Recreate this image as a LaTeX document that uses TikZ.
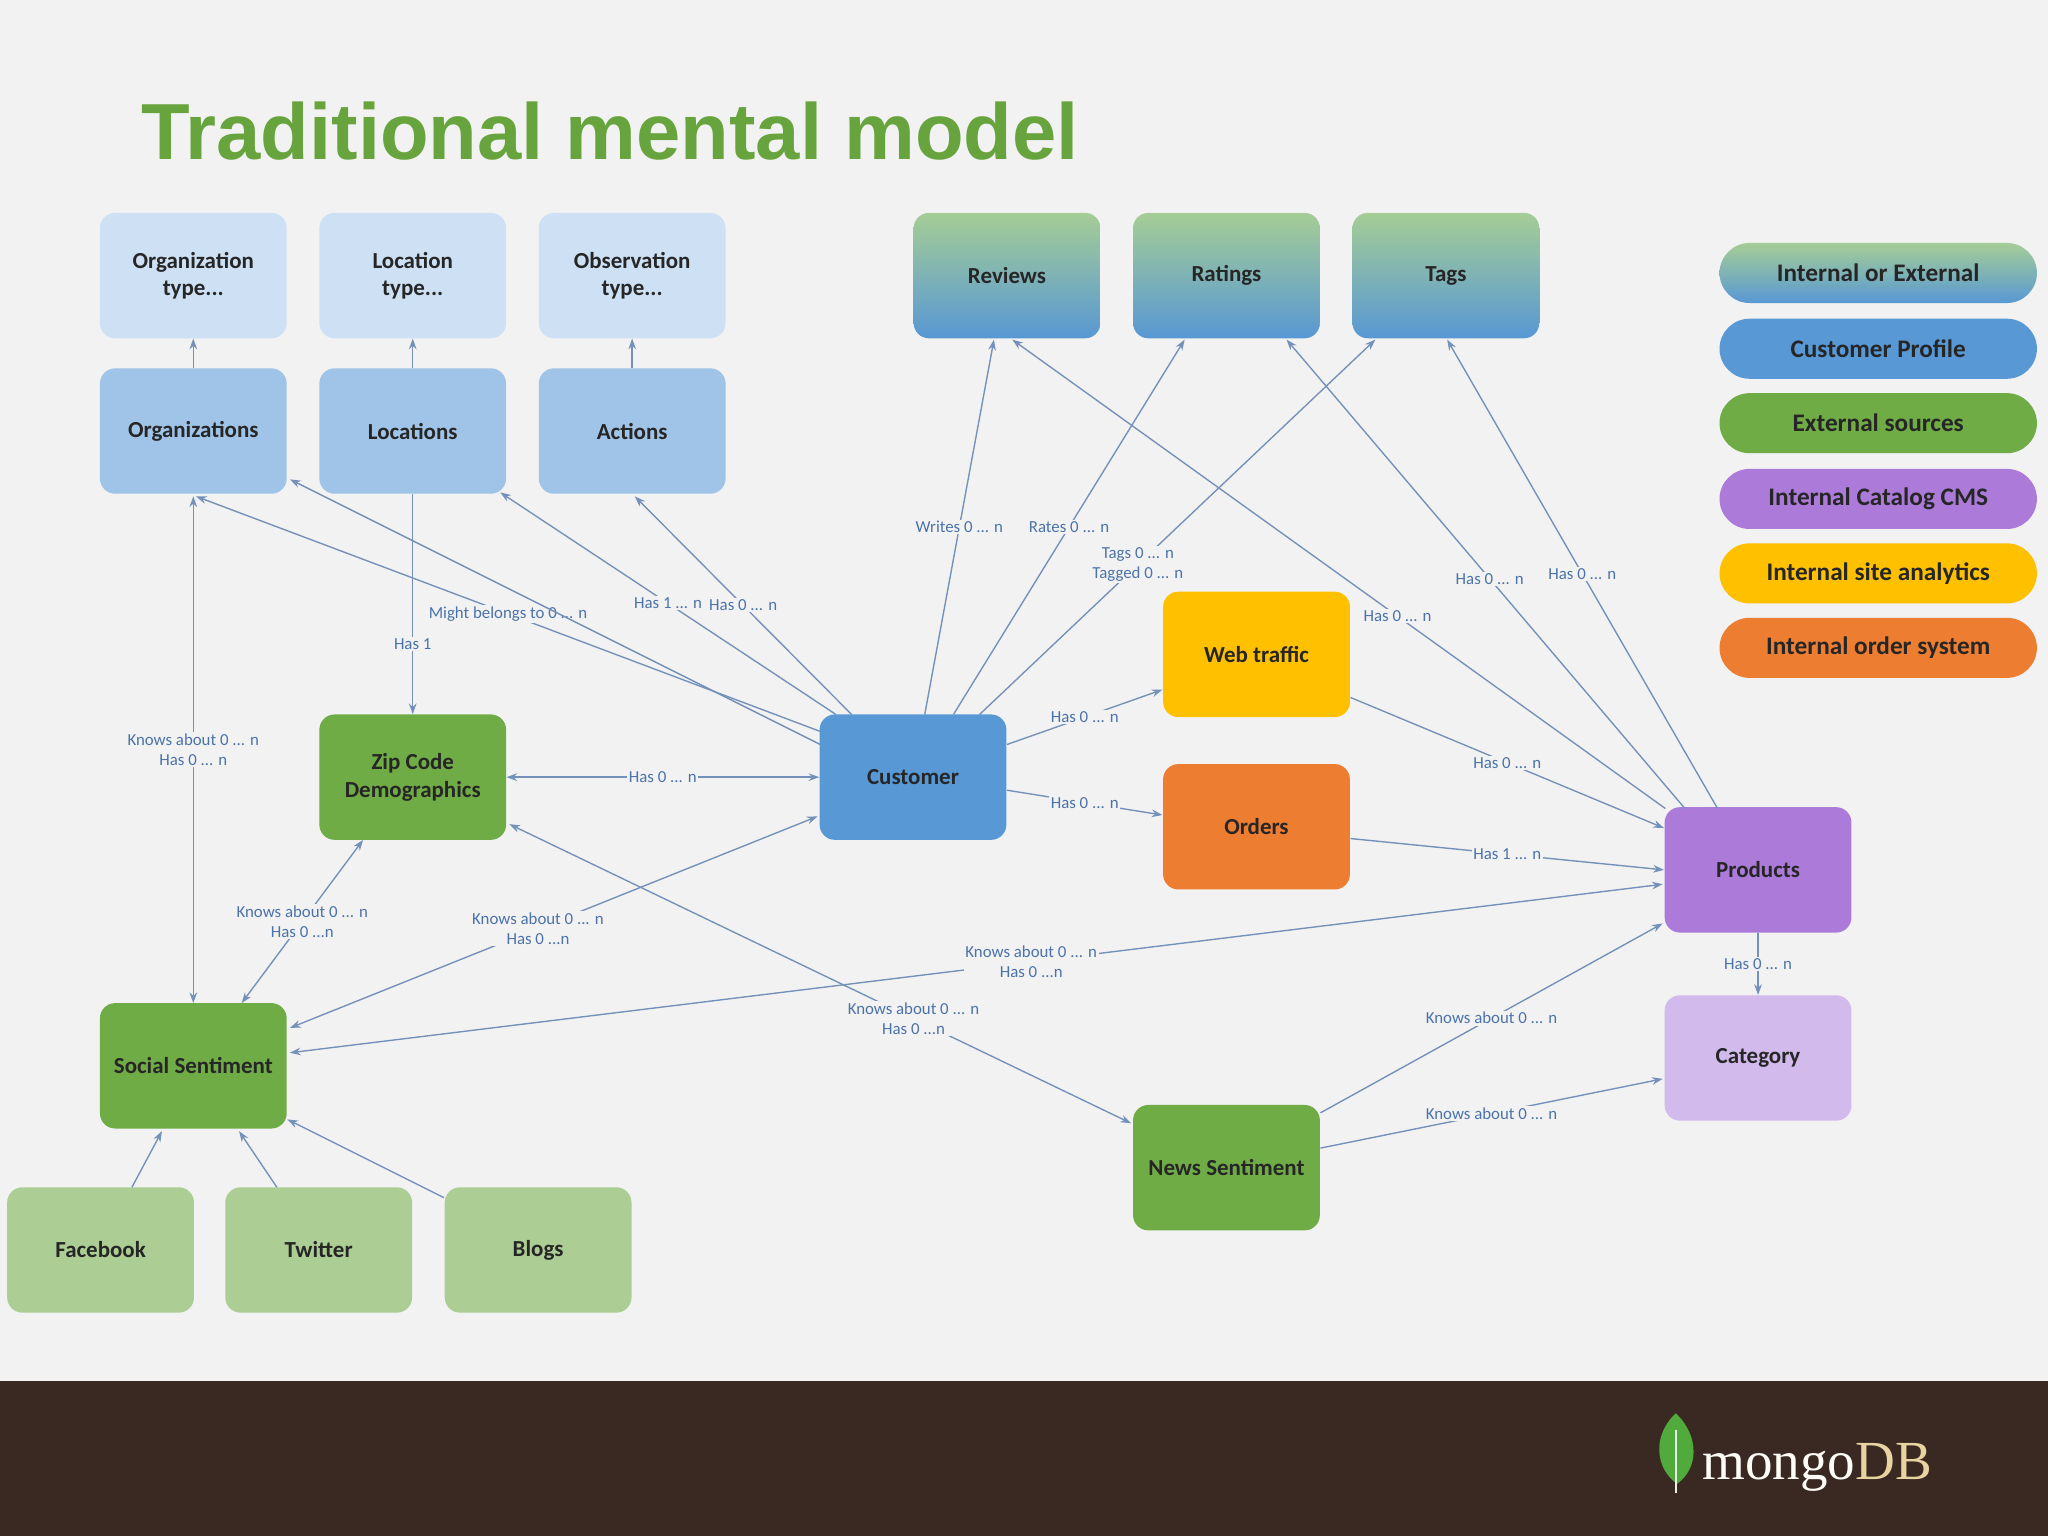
\documentclass[tikz,border=0pt]{standalone}
\usepackage{fontspec}
\setmainfont{Carlito}
\newfontfamily\titlefont{Liberation Sans}
\newfontfamily\logofont{Liberation Serif}
\usetikzlibrary{calc,arrows.meta}
\definecolor{bg}{RGB}{242,242,242}
\definecolor{edge}{RGB}{115,145,185}
\definecolor{lbl}{RGB}{75,115,170}
\definecolor{typeblue}{RGB}{205,224,244}
\definecolor{midblue}{RGB}{160,196,232}
\definecolor{custblue}{RGB}{88,152,212}
\definecolor{grn}{RGB}{112,172,70}
\definecolor{lgrn}{RGB}{172,206,148}
\definecolor{purp}{RGB}{172,122,216}
\definecolor{lpurp}{RGB}{210,186,236}
\definecolor{yel}{RGB}{255,192,0}
\definecolor{orng}{RGB}{237,125,49}
\definecolor{gtop}{RGB}{165,205,150}
\definecolor{title}{RGB}{104,164,62}
\definecolor{footer}{RGB}{57,41,34}
\definecolor{leaf}{RGB}{80,170,60}
\definecolor{db}{RGB}{232,212,160}
\tikzset{
  x=0.03cm,y=-0.03cm,
  box/.style={rounded corners=0.35cm,minimum width=4.29cm,minimum height=2.88cm,align=center,
    font=\fontsize{15}{18}\selectfont\bfseries,text=black!85,inner sep=2pt},
  pill/.style={rounded corners=0.69cm,minimum width=7.29cm,minimum height=1.38cm,
    font=\fontsize{16.5}{18}\selectfont\bfseries,text=black!85},
  con/.style={draw=edge,line width=0.9pt,-{Stealth[length=7pt,width=5pt]}},
  bi/.style={con,{Stealth[length=7pt,width=5pt]}-{Stealth[length=7pt,width=5pt]}},
  lab/.style={fill=bg,inner sep=1pt,text=lbl,align=center,font=\fontsize{11}{13}\selectfont}
}
\begin{document}
\begin{tikzpicture}
\fill[bg] (0,0) rectangle (1568,1176);
\useasboundingbox (0,0) rectangle (1568,1176);
\fill[footer] (0,1057) rectangle (1568,1176);
\node[anchor=base west,text=title,font=\titlefont\fontsize{52}{58}\selectfont\bfseries,inner sep=0] (ttl) at (108,122) {Traditional mental model};

% type nodes
\node[box,fill=typeblue] (orgt) at (148,211) {Organization\\type...};
\node[box,fill=typeblue] (loct) at (316,211) {Location\\type...};
\node[box,fill=typeblue] (obst) at (484,211) {Observation\\type...};
\node[box,fill=midblue] (org) at (148,330) {Organizations};
\node[box,fill=midblue] (loc) at (316,330) {Locations};
\node[box,fill=midblue] (act) at (484,330) {Actions};
\node[box,top color=gtop,bottom color=custblue] (rev) at (771,211) {Reviews};
\node[box,top color=gtop,bottom color=custblue] (rat) at (939,211) {Ratings};
\node[box,top color=gtop,bottom color=custblue] (tag) at (1107,211) {Tags};
\node[box,fill=yel] (web) at (962,501) {Web traffic};
\node[box,fill=custblue] (cust) at (699,595) {Customer};
\node[box,fill=orng] (ord) at (962,633) {Orders};
\node[box,fill=grn] (zip) at (316,595) {Zip Code\\Demographics};
\node[box,fill=purp] (prod) at (1346,666) {Products};
\node[box,fill=lpurp] (cat) at (1346,810) {Category};
\node[box,fill=grn] (soc) at (148,816) {Social Sentiment};
\node[box,fill=grn] (news) at (939,894) {News Sentiment};
\node[box,fill=lgrn] (fb) at (77,957) {Facebook};
\node[box,fill=lgrn] (tw) at (244,957) {Twitter};
\node[box,fill=lgrn] (bl) at (412,957) {Blogs};

% legend
\node[pill,top color=gtop,bottom color=custblue] (l1) at (1438,209) {Internal or External};
\node[pill,fill=custblue] (l2) at (1438,267) {Customer Profile};
\node[pill,fill=grn] (l3) at (1438,324) {External sources};
\node[pill,fill=purp] (l4) at (1438,382) {Internal Catalog CMS};
\node[pill,fill=yel] (l5) at (1438,439) {Internal site analytics};
\node[pill,fill=orng] (l6) at (1438,496) {Internal order system};

% connectors
\draw[con] (org) -- (orgt);
\draw[con] (loc) -- (loct);
\draw[con] (act) -- (obst);
\draw[con] ($(cust)+(-71,-35)$) -- node[lab,pos=.5]{Might belongs to 0 ... n} ($(org)+(2,50)$);
\draw[con] ($(cust)+(-71,-25)$) -- ($(org)+(74,37)$);
\draw[con] ($(cust)+(-59,-48)$) -- node[lab,pos=.5]{Has 1 ... n} ($(loc)+(67,47)$);
\draw[con] ($(cust)+(-47,-48)$) -- node[lab,pos=.5]{Has 0 ... n} ($(act)+(2,50)$);
\draw[con] (loc) -- node[lab,pos=.68]{Has 1} (zip);
\draw[con] ($(cust)+(9,-48)$) -- node[lab,pos=.5]{Writes 0 ... n} ($(rev)+(-10,49)$);
\draw[con] ($(cust)+(31,-48)$) -- node[lab,pos=.5]{Rates 0 ... n} ($(rat)+(-32,49)$);
\draw[con] ($(cust)+(51,-48)$) -- node[lab,pos=.4]{Tags 0 ... n\\Tagged 0 ... n} ($(tag)+(-54,49)$);
\draw[con] ($(prod)+(-71,-47)$) -- node[lab,pos=.41]{Has 0 ... n} ($(rev)+(4,49)$);
\draw[con] ($(prod)+(-56,-47)$) -- node[lab,pos=.49]{Has 0 ... n} ($(rat)+(46,49)$);
\draw[con] ($(prod)+(-31,-47)$) -- node[lab,pos=.5]{Has 0 ... n} ($(tag)+(1,49)$);
\draw[con] ($(cust)+(72,-25)$) -- node[lab,pos=.5]{Has 0 ... n} ($(web)+(-72,27)$);
\draw[con] ($(cust)+(72,10)$) -- node[lab,pos=.5]{Has 0 ... n} ($(ord)+(-72,-9)$);
\draw[con] ($(web)+(72,33)$) -- node[lab,pos=.5]{Has 0 ... n} ($(prod)+(-72,-32)$);
\draw[con] ($(ord)+(72,9)$) -- node[lab,pos=.5]{Has 1 ... n} ($(prod)+(-72,0)$);
\draw[con] (prod) -- node[lab,pos=.5]{Has 0 ... n} (cat);
\draw[bi] (zip) -- node[lab,pos=.5]{Has 0 ... n} (cust);
\draw[bi] ($(org)+(0,50)$) -- node[lab,pos=.5]{Knows about 0 ... n\\Has 0 ... n} ($(soc)+(0,-48)$);
\draw[bi] ($(soc)+(37,-48)$) -- node[lab,pos=.5]{Knows about 0 ... n\\Has 0 ...n} ($(zip)+(-38,48)$);
\draw[bi] ($(soc)+(74,-29)$) -- node[lab,pos=.47]{Knows about 0 ... n\\Has 0 ...n} ($(cust)+(-73,30)$);
\draw[bi] ($(zip)+(74,36)$) -- node[lab,pos=.65]{Knows about 0 ... n\\Has 0 ...n} ($(news)+(-73,-34)$);
\draw[bi] ($(soc)+(74,-10)$) -- node[lab,pos=.54]{Knows about 0 ... n\\Has 0 ...n} ($(prod)+(-73,11)$);
\draw[con] ($(news)+(72,-42)$) -- node[lab,pos=.5]{Knows about 0 ... n} ($(prod)+(-73,41)$);
\draw[con] ($(news)+(72,-15)$) -- node[lab,pos=.5]{Knows about 0 ... n} ($(cat)+(-73,16)$);
\draw[con] ($(fb)+(24,-48)$) -- ($(soc)+(-24,50)$);
\draw[con] ($(tw)+(-32,-48)$) -- ($(soc)+(35,50)$);
\draw[con] ($(bl)+(-72,-40)$) -- ($(soc)+(72,41)$);

% logo
\fill[leaf] (1283,1082) .. controls (1302,1100) and (1300,1125) .. (1284,1136) .. controls (1268,1125) and (1264,1100) .. (1283,1082);
\draw[white!85!leaf,line width=1pt] (1283,1095) -- (1283,1143);
\node[anchor=base west,inner sep=0,font=\logofont\fontsize{36}{38}\selectfont] (logo) at (1303,1133) {\textcolor{white!92!db}{mongo}\textcolor{db}{DB}};
\end{tikzpicture}
\end{document}
